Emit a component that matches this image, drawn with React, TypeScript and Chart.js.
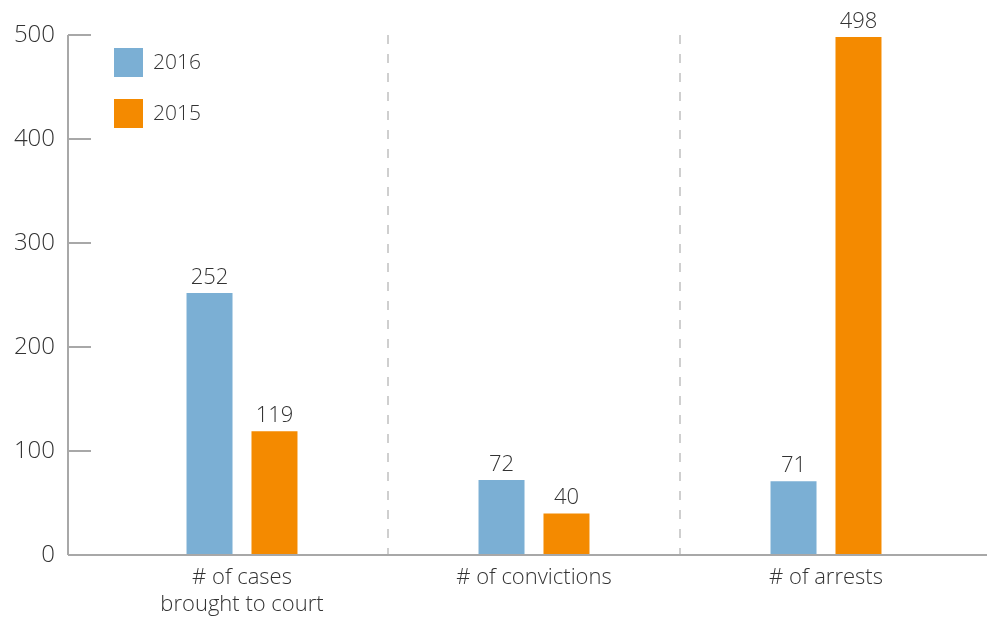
import React, { useEffect, useRef } from 'react';
import { Chart, registerables } from 'chart.js';

Chart.register(...registerables);

const categories: (string | string[])[] = [['# of cases', 'brought to court'], '# of convictions', '# of arrests'];
const seriesLabels = ['2016', '2015'];
const values2016 = [252, 72, 71];
const values2015 = [119, 40, 498];
const yTicks = [0, 100, 200, 300, 400, 500];

const BLUE = '#7bafd4';
const ORANGE = '#f48a00';
const TEXT = '#333333';
const AXIS = '#a8a8a8';
const FONT = '"Open Sans", Lato, sans-serif';
const W = 300;

const decor = {
  id: 'decor',
  afterDatasetsDraw(chart: any) {
    const ctx = chart.ctx as CanvasRenderingContext2D;
    const y = chart.scales.y;
    const area = chart.chartArea;
    const axisX = area.left - 28;
    ctx.save();
    ctx.strokeStyle = AXIS;
    ctx.lineWidth = 2;
    ctx.beginPath();
    const y0 = y.getPixelForValue(0);
    ctx.moveTo(axisX, y.getPixelForValue(yTicks[yTicks.length - 1]));
    ctx.lineTo(axisX, y0);
    ctx.moveTo(axisX, y0);
    ctx.lineTo(chart.width, y0);
    yTicks.forEach((v) => {
      if (v === 0) return;
      const py = y.getPixelForValue(v);
      ctx.moveTo(axisX, py);
      ctx.lineTo(axisX + 23, py);
    });
    ctx.stroke();

    // value labels
    ctx.fillStyle = TEXT;
    ctx.font = `${W} 22px ${FONT}`;
    ctx.textAlign = 'center';
    ctx.textBaseline = 'alphabetic';
    chart.data.datasets.forEach((ds: any, i: number) => {
      const meta = chart.getDatasetMeta(i);
      meta.data.forEach((bar: any, j: number) => {
        ctx.fillText(String(ds.data[j]), bar.x, bar.y - 9);
      });
    });

    // legend
    ctx.font = `${W} 21px ${FONT}`;
    ctx.textAlign = 'left';
    ctx.textBaseline = 'middle';
    chart.data.datasets.forEach((ds: any, i: number) => {
      const top = 48 + i * 51;
      ctx.fillStyle = ds.backgroundColor;
      ctx.fillRect(axisX + 46, top, 29, 29);
      ctx.fillStyle = TEXT;
      ctx.fillText(ds.label, axisX + 85, top + 15);
    });
    ctx.restore();
  },
};

export default function App() {
  const ref = useRef<HTMLCanvasElement | null>(null);
  useEffect(() => {
    if (!ref.current) return;
    const chart = new Chart(ref.current, {
      type: 'bar',
      data: {
        labels: categories,
        datasets: [
          { label: seriesLabels[0], data: values2016, backgroundColor: BLUE },
          { label: seriesLabels[1], data: values2015, backgroundColor: ORANGE },
        ],
      },
      options: {
        responsive: false,
        animation: false,
        devicePixelRatio: 1,
        layout: { padding: { top: 35, right: 15, left: 0, bottom: 0 } },
        datasets: { bar: { categoryPercentage: 0.445, barPercentage: 0.708 } },
        plugins: { legend: { display: false }, tooltip: { enabled: false } },
        scales: {
          x: {
            grid: {
              offset: true,
              drawTicks: false,
              lineWidth: 2,
              color: (c: any) => (c.index === 1 || c.index === 2 ? '#cfcfcf' : 'rgba(0,0,0,0)'),
            },
            border: { display: false, dash: [9, 10] },
            ticks: { color: TEXT, font: { family: FONT, size: 22, weight: W, lineHeight: 1.2 }, padding: 10, maxRotation: 0 },
            afterFit: (s: any) => { s.height = 63; },
          },
          y: {
            min: 0,
            max: 500,
            grid: { display: false, drawTicks: false },
            border: { display: false },
            afterBuildTicks: (s: any) => { s.ticks = yTicks.map((v) => ({ value: v })); },
            ticks: { color: TEXT, font: { family: FONT, size: 24, weight: W }, padding: 41 },
            afterFit: (s: any) => { s.width = 96; s.paddingTop = 0; s.paddingBottom = 0; },
          },
        },
      },
      plugins: [decor],
    });
    return () => chart.destroy();
  }, []);
  return (
    <div style={{ position: 'absolute', left: 0, top: 0, width: 987, height: 618 }}>
      <canvas ref={ref} width={987} height={618} />
    </div>
  );
}
